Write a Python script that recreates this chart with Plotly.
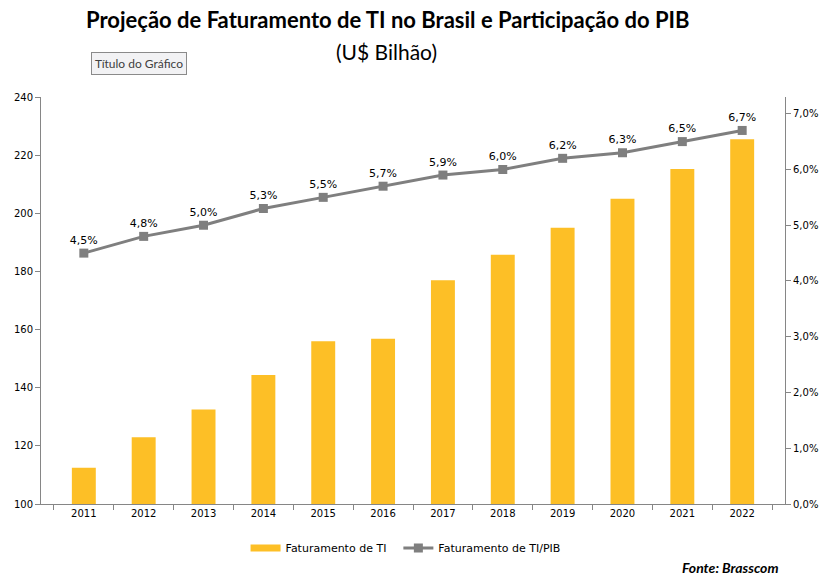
import plotly.graph_objects as go

anos = ["2011", "2012", "2013", "2014", "2015", "2016", "2017", "2018", "2019", "2020", "2021", "2022"]
faturamento = [112.5, 123.0, 132.5, 144.4, 156.0, 156.8, 177.0, 185.7, 195.0, 205.0, 215.2, 225.5]
pib_pct = [4.5, 4.8, 5.0, 5.3, 5.5, 5.7, 5.9, 6.0, 6.2, 6.3, 6.5, 6.7]

pib_frac = [v / 100 for v in pib_pct]
pib_labels = [f"{v:.1f}%".replace(".", ",") for v in pib_pct]

tick_font = dict(family="DejaVu Sans", size=10, color="#000000")
axis_col = "#868686"
bar_col = "#FDBF26"
line_col = "#7F7F7F"

fig = go.Figure()
fig.add_trace(go.Bar(
    x=anos, y=faturamento, name="Faturamento de TI",
    marker=dict(color=bar_col, line=dict(width=0)),
    yaxis="y", showlegend=False,
))
# legend-only entry drawn as a flat swatch like the original
fig.add_trace(go.Scatter(
    x=[None], y=[None], name="Faturamento de TI&nbsp;&nbsp;", mode="lines",
    line=dict(color=bar_col, width=7), yaxis="y", hoverinfo="skip",
))
fig.add_trace(go.Scatter(
    x=anos, y=pib_frac, name="Faturamento de TI/PIB",
    mode="lines+markers+text",
    line=dict(color=line_col, width=3),
    marker=dict(symbol="square", size=9, color=line_col),
    text=pib_labels, textposition="top center",
    textfont=dict(family="DejaVu Sans", size=11, color="#000000"),
    yaxis="y2",
))

fig.update_layout(
    width=831, height=576,
    margin=dict(l=41, r=46, t=97, b=72),
    paper_bgcolor="white", plot_bgcolor="white",
    separators=", ",
    bargap=0.6,
    showlegend=True,
    legend=dict(orientation="h", x=0.49, xanchor="center", y=-0.108, yanchor="middle",
                font=dict(family="DejaVu Sans", size=11, color="#000000"),
                itemwidth=30, traceorder="normal", tracegroupgap=0),
    xaxis=dict(
        type="category", showline=True, linecolor=axis_col, linewidth=1,
        ticks="outside", tickson="boundaries", ticklen=5, tickcolor=axis_col,
        tickfont=tick_font, showgrid=False, zeroline=False,
    ),
    yaxis=dict(
        range=[100, 240], dtick=20, showline=True, linecolor=axis_col, linewidth=1,
        ticks="outside", ticklen=5, tickcolor=axis_col, tickfont=tick_font,
        showgrid=False, zeroline=False,
    ),
    yaxis2=dict(
        range=[0, 0.073], dtick=0.01, tickformat=".1%", overlaying="y", side="right",
        showline=True, linecolor=axis_col, linewidth=1,
        ticks="outside", ticklen=5, tickcolor=axis_col, tickfont=tick_font,
        showgrid=False, zeroline=False,
    ),
    annotations=[
        dict(text="<b>Projeção de Faturamento de TI no Brasil e Participação do PIB</b>",
             x=388, y=576 - 20, showarrow=False,
             font=dict(family="Lato", size=22, color="#000000")),
        dict(text="(U$ Bilhão)", x=386, y=576 - 51, showarrow=False,
             font=dict(family="Lato", size=21, color="#000000")),
        dict(text="Título do Gráfico", x=139, y=576 - 63, showarrow=False,
             font=dict(family="Lato", size=12, color="#404040"),
             bgcolor="#F2F2F4", bordercolor="#8A8A8A", borderwidth=1, borderpad=3),
        dict(text="<b><i>Fonte: Brasscom</i></b>", x=730, y=576 - 567, showarrow=False,
             font=dict(family="Lato", size=14, color="#000000")),
    ],
)

# convert pixel-positioned annotations to paper coordinates
pw = 831 - 41 - 46
ph = 576 - 97 - 72
for a in fig.layout.annotations:
    px, py = a.x, a.y
    a.x = (px - 41) / pw
    a.y = (py - 72) / ph
    a.xref = "paper"
    a.yref = "paper"
    a.xanchor = "center"
    a.yanchor = "middle"

fig.write_html("out.html", config={"displayModeBar": False},
               post_script="document.body.style.margin='0';")
